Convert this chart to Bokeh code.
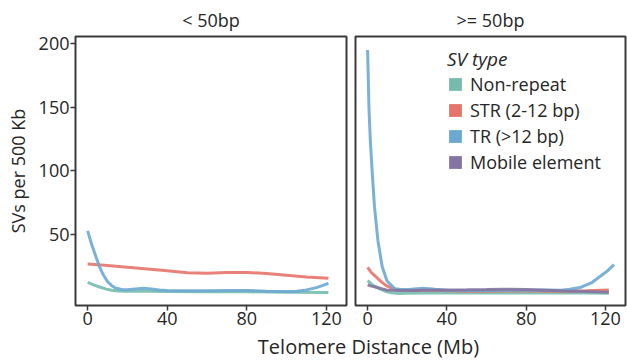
from bokeh.plotting import figure
from bokeh.layouts import column, row
from bokeh.models import Div, Legend, LegendItem, Range1d, FixedTicker, ColumnDataSource
from bokeh.embed import file_html
from bokeh.resources import INLINE

# ---------------- data ----------------
panel_titles = ["< 50bp", ">= 50bp"]
series_names = ["Non-repeat", "STR (2-12 bp)", "TR (>12 bp)", "Mobile element"]
series_colors = ["#76BCAE", "#E5746A", "#6BA9D1", "#8474A1"]
x_ticks = [0, 40, 80, 120]
y_ticks = [50, 100, 150, 200]

# < 50bp panel
l_nonrep_x = [0, 3, 6, 9, 12, 15, 20, 30, 40, 60, 80, 100, 121]
l_nonrep_y = [12.0, 10.0, 8.3, 6.8, 5.7, 5.1, 4.9, 4.9, 4.7, 4.6, 4.5, 4.2, 3.9]
l_str_x = [0, 10, 20, 30, 40, 50, 60, 70, 80, 90, 100, 110, 121]
l_str_y = [26.4, 25.2, 23.8, 22.5, 21.1, 19.6, 19.2, 19.7, 19.8, 18.9, 17.5, 16.2, 15.2]
l_tr_x = [0, 2, 4, 6, 8, 10, 12, 14, 17, 20, 24, 28, 32, 36, 40, 50, 60, 70, 80, 90, 100, 105, 110, 115, 121]
l_tr_y = [52.5, 42.0, 33.0, 24.0, 17.5, 12.5, 9.5, 7.5, 6.3, 6.2, 6.8, 7.3, 6.8, 6.0, 5.6, 5.4, 5.4,
          5.5, 5.5, 5.0, 4.7, 5.0, 6.0, 7.8, 11.2]

# >= 50bp panel
r_nonrep_x = [0, 2, 4.4, 7, 9.4, 12, 16, 20, 30, 40, 60, 80, 100, 110, 121.7]
r_nonrep_y = [13.3, 10.5, 8.1, 6.2, 4.7, 3.7, 3.2, 3.3, 3.6, 3.6, 3.5, 3.6, 3.6, 3.5, 3.4]
r_str_x = [0, 2, 4.4, 7, 9.4, 12, 14.5, 18, 25, 30, 40, 50, 60, 70, 80, 90, 100, 110, 121.7]
r_str_y = [23.8, 19.5, 16.0, 12.3, 9.4, 7.5, 6.3, 5.8, 5.5, 5.9, 5.4, 5.0, 5.0, 5.2, 5.4, 5.0, 5.0, 5.4, 6.0]
r_tr_x = [0, 0.7, 1.4, 2.4, 3.5, 5.2, 7.4, 9.8, 13.6, 17, 22, 28, 34, 40, 50, 60, 70, 80, 90,
          97.7, 102, 107.8, 112.8, 117.9, 121, 124.3]
r_tr_y = [195, 149, 123, 97, 71, 45, 24, 13, 7.0, 6.3, 6.5, 7.3, 6.5, 5.8, 5.6, 5.6, 5.8, 5.8,
          5.9, 5.8, 6.5, 8.1, 11.5, 17.3, 21.0, 25.9]
r_mob_x = [0, 2, 4.4, 7, 9.4, 12, 14.5, 20, 30, 40, 50, 60, 70, 80, 90, 100, 110, 121.7]
r_mob_y = [10.0, 9.0, 8.1, 7.0, 6.0, 5.7, 5.5, 5.6, 5.8, 6.0, 6.1, 6.3, 6.6, 6.3, 5.8, 5.2, 4.7, 4.2]

left_series = [(l_nonrep_x, l_nonrep_y, 0), (l_str_x, l_str_y, 1), (l_tr_x, l_tr_y, 2)]
right_series = [(r_nonrep_x, r_nonrep_y, 0), (r_str_x, r_str_y, 1), (r_tr_x, r_tr_y, 2), (r_mob_x, r_mob_y, 3)]

FONT = "Open Sans"
TXT = "#262626"
X_RANGE = (-6.1, 130.1)
Y_RANGE = (-6.3, 205.7)


def style(p, title):
    p.title.text = title
    p.title.align = "center"
    p.title.text_font = FONT
    p.title.text_font_size = "18px"
    p.title.text_font_style = "normal"
    p.title.text_color = TXT
    p.xgrid.visible = False
    p.ygrid.visible = False
    p.outline_line_color = "#3a3a3a"
    p.outline_line_width = 2
    p.background_fill_color = "white"
    p.border_fill_color = "white"
    for ax in p.xaxis + p.yaxis:
        ax.axis_line_color = None
        ax.major_tick_line_color = "#3a3a3a"
        ax.major_tick_line_width = 1.5
        ax.major_tick_in = 0
        ax.major_tick_out = 5
        ax.minor_tick_line_color = None
        ax.major_label_text_font = FONT
        ax.major_label_text_font_size = "18px"
        ax.major_label_text_color = TXT
        ax.major_label_standoff = 1
    p.xaxis.ticker = FixedTicker(ticks=x_ticks)


common = dict(output_backend="svg", toolbar_location=None, height=335,
              x_range=Range1d(*X_RANGE), y_range=Range1d(*Y_RANGE),
              min_border_top=35, min_border_bottom=30)

p1 = figure(width=350, min_border_left=75, min_border_right=4, **common)
style(p1, panel_titles[0])
p1.yaxis.ticker = FixedTicker(ticks=y_ticks)
p1.yaxis.axis_label = "SVs per 500 Kb"
p1.yaxis.axis_label_text_font = FONT
p1.yaxis.axis_label_text_font_size = "18px"
p1.yaxis.axis_label_text_font_style = "normal"
p1.yaxis.axis_label_text_color = TXT
p1.yaxis.axis_label_standoff = 6

for xs, ys, k in left_series:
    p1.line(xs, ys, line_color=series_colors[k], line_width=3, line_alpha=0.9)

p2 = figure(width=277, min_border_left=5, min_border_right=2, y_axis_location=None,
            x_range=Range1d(*X_RANGE), y_range=Range1d(*Y_RANGE),
            output_backend="svg", toolbar_location=None, height=335,
            min_border_top=35, min_border_bottom=30)
style(p2, panel_titles[1])

for xs, ys, k in right_series:
    p2.line(xs, ys, line_color=series_colors[k], line_width=3, line_alpha=0.9)

nan = float("nan")
items = []
for name, col in zip(series_names, series_colors):
    r = p2.quad(source=ColumnDataSource(dict(l=[nan], r=[nan], t=[nan], b=[nan])),
                left="l", right="r", top="t", bottom="b", fill_color=col, line_color=None)
    items.append(LegendItem(label=name, renderers=[r]))

legend = Legend(items=items, location=(92, 131), title="SV type",
                title_text_font=FONT, title_text_font_size="19px", title_text_font_style="italic",
                title_text_color=TXT, title_standoff=0,
                label_text_font=FONT, label_text_font_size="18px", label_text_color=TXT,
                glyph_width=16, glyph_height=16, label_height=20, spacing=2, label_standoff=7,
                padding=0, margin=0, border_line_color=None, background_fill_alpha=0)
p2.add_layout(legend)

xlabel = Div(text="Telomere Distance (Mb)", width=627, height=27, margin=(0, 0, 0, 0),
             styles={"text-align": "center", "font-family": FONT, "font-size": "20px",
                     "color": TXT, "line-height": "24px", "width": "627px", "padding-left": "110px"})

layout = column(row(p1, p2), xlabel)

html = file_html(layout, INLINE)
html = html.replace("<body>", "<body style=\"margin:0\">")
open("out.html", "w").write(html)
